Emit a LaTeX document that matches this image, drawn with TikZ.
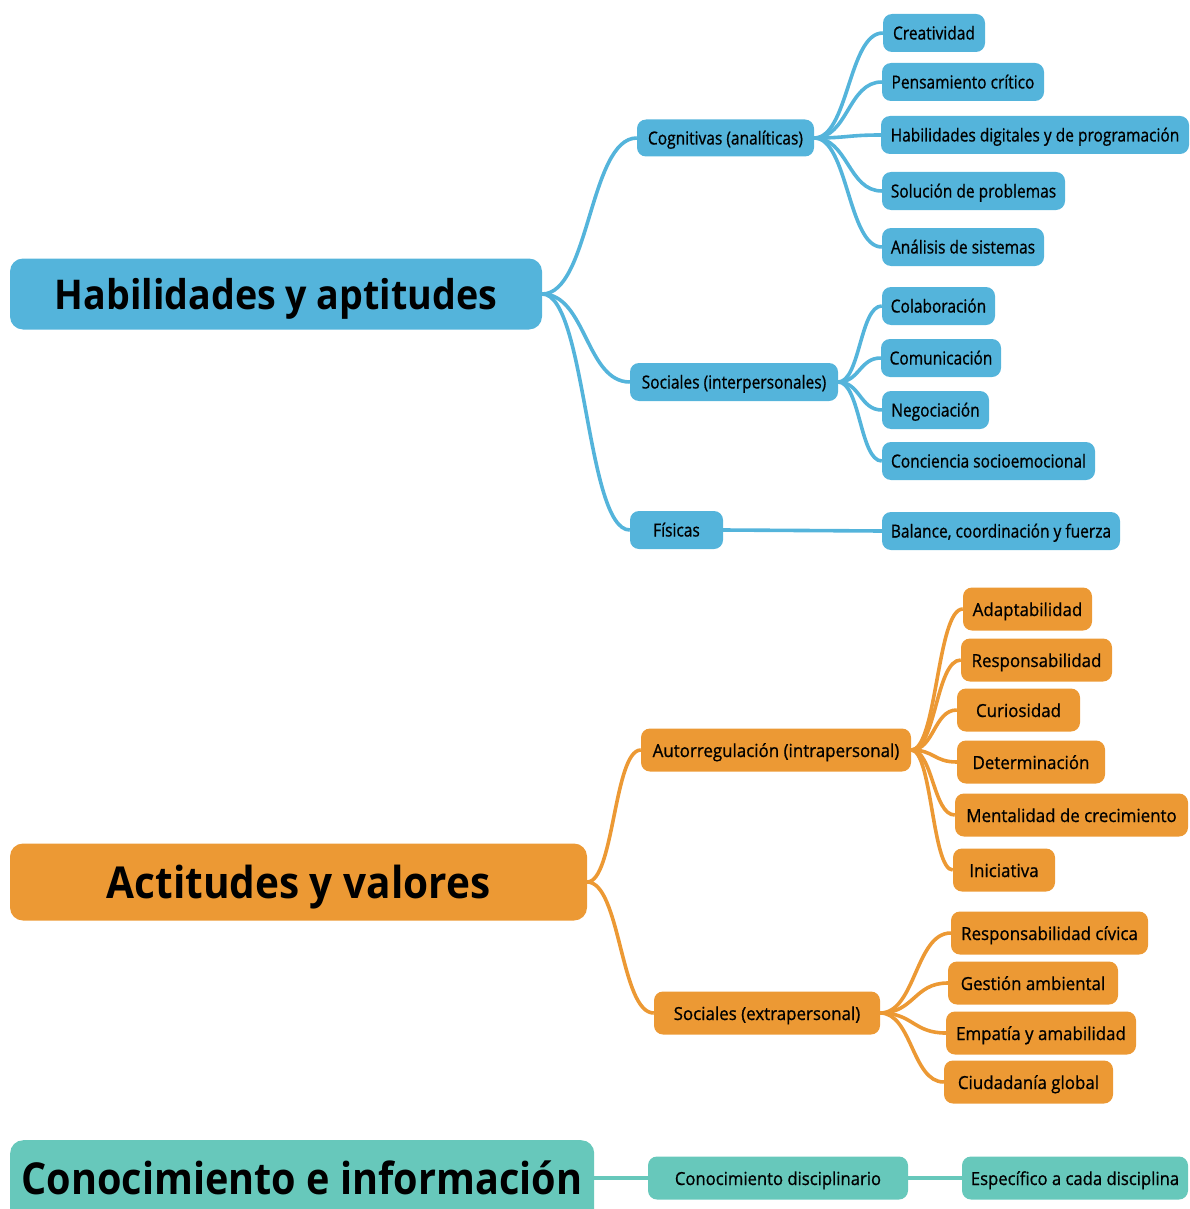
\documentclass[tikz,border=0pt]{standalone}
\usepackage{fontspec}
\setmainfont{Open Sans}
\newfontfamily\rootfontA[FakeStretch=0.918]{Open Sans Bold}
\newfontfamily\rootfontB[FakeStretch=0.921]{Open Sans Bold}
\newfontfamily\rootfontC[FakeStretch=0.90]{Open Sans Bold}
\newfontfamily\bfontn[FakeStretch=0.862,FakeBold=0.8]{Open Sans}
\newfontfamily\ofontn[FakeStretch=0.94,FakeBold=0.8]{Open Sans}
\newfontfamily\tfontn[FakeStretch=0.925,FakeBold=0.8]{Open Sans}
\usetikzlibrary{calc}
\definecolor{cblue}{RGB}{84,180,219}
\definecolor{corange}{RGB}{236,153,52}
\definecolor{cteal}{RGB}{103,200,187}
\tikzset{
  box/.style={rectangle, rounded corners=9pt, inner sep=0pt, text=black, align=center},
  rootbox/.style={box, rounded corners=13pt, text depth=0pt},
  bsub/.style={box, fill=cblue, font=\bfontn\fontsize{18}{21}\selectfont, text height=13pt, text depth=0pt},
  osub/.style={box, fill=corange, font=\ofontn\fontsize{18}{21}\selectfont, text height=14pt, text depth=0pt},
  tsub/.style={box, fill=cteal, font=\tfontn\fontsize{18}{21}\selectfont, text height=14pt, text depth=0pt},
  bconn/.style={draw=cblue, line width=3.6pt},
  oconn/.style={draw=corange, line width=3.6pt},
  tconn/.style={draw=cteal, line width=3.8pt},
}
\newcommand{\nd}[7]{\node[#2, minimum width={(#4-#3)*1pt}, minimum height={#6*1pt}] (#1) at ({(#3+#4)/2},#5) {#7};}
\newcommand{\cn}[3]{\path[#1] let \p1=(#2.east), \p2=(#3.west) in (\p1) .. controls ({(\x1+\x2)/2},\y1) and ({(\x1+\x2)/2},\y2) .. (\p2);}
\begin{document}
\begin{tikzpicture}[x=1pt,y=-1pt]
\useasboundingbox (0,0) rectangle (1189,1209);
% roots
\nd{r1}{rootbox,fill=cblue,font=\rootfontA\fontsize{41}{45}\selectfont}{10}{542}{294}{71}{Habilidades y aptitudes}
\nd{r2}{rootbox,fill=corange,font=\rootfontB\fontsize{44}{48}\selectfont}{10}{587}{882}{77}{Actitudes y valores}
\node[box, rounded corners=13pt, fill=cteal, minimum width=584pt, minimum height=90pt, anchor=north west] (r3box) at (10,1140) {};
\node[font=\rootfontC\fontsize{44}{48}\selectfont, inner sep=0pt, text depth=0pt] (r3) at (302,1178) {Conocimiento e información};
\coordinate (r3e) at (594,1178);
% blue level 2
\nd{cog}{bsub}{637}{814}{138}{37}{Cognitivas (analíticas)}
\nd{soc}{bsub}{630}{838}{382}{38}{Sociales (interpersonales)}
\nd{fis}{bsub}{630}{723}{530}{38}{Físicas}
% blue level 3
\nd{b1}{bsub}{883}{985}{33}{38}{Creatividad}
\nd{b2}{bsub}{882}{1044}{82}{38}{Pensamiento crítico}
\nd{b3}{bsub}{881}{1189}{135}{38}{Habilidades digitales y de programación}
\nd{b4}{bsub}{882}{1065}{191}{38}{Solución de problemas}
\nd{b5}{bsub}{882}{1044}{247}{38}{Análisis de sistemas}
\nd{b6}{bsub}{882}{995}{306}{38}{Colaboración}
\nd{b7}{bsub}{881}{1001}{358}{38}{Comunicación}
\nd{b8}{bsub}{882}{989}{410}{38}{Negociación}
\nd{b9}{bsub}{882}{1095}{461}{38}{Conciencia socioemocional}
\nd{b10}{bsub}{882}{1120}{531}{38}{Balance, coordinación y fuerza}
% orange level 2
\nd{aut}{osub}{641}{911}{750}{43}{Autorregulación (intrapersonal)}
\nd{ext}{osub}{654}{880}{1013}{43}{Sociales (extrapersonal)}
% orange level 3
\nd{o1}{osub}{963}{1092}{609}{43}{Adaptabilidad}
\nd{o2}{osub}{961}{1112}{660}{43}{Responsabilidad}
\nd{o3}{osub}{957}{1080}{710}{43}{Curiosidad}
\nd{o4}{osub}{957}{1105}{762}{43}{Determinación}
\nd{o5}{osub}{955}{1188}{815}{43}{Mentalidad de crecimiento}
\nd{o6}{osub}{953}{1055}{870}{43}{Iniciativa}
\nd{o7}{osub}{951}{1148}{933}{43}{Responsabilidad cívica}
\nd{o8}{osub}{948}{1118}{983}{43}{Gestión ambiental}
\nd{o9}{osub}{946}{1136}{1033}{43}{Empatía y amabilidad}
\nd{o10}{osub}{944}{1113}{1082}{43}{Ciudadanía global}
% teal
\nd{t1}{tsub}{648}{908}{1178}{43}{Conocimiento disciplinario}
\nd{t2}{tsub}{962}{1188}{1178}{43}{Específico a cada disciplina}
% connectors
\cn{bconn}{r1}{cog}
\cn{bconn}{r1}{soc}
\cn{bconn}{r1}{fis}
\foreach \c in {b1,b2,b3,b4,b5}{\cn{bconn}{cog}{\c}}
\foreach \c in {b6,b7,b8,b9}{\cn{bconn}{soc}{\c}}
\cn{bconn}{fis}{b10}
\cn{oconn}{r2}{aut}
\cn{oconn}{r2}{ext}
\foreach \c in {o1,o2,o3,o4,o5,o6}{\cn{oconn}{aut}{\c}}
\foreach \c in {o7,o8,o9,o10}{\cn{oconn}{ext}{\c}}
\path[tconn] (r3e) -- (t1.west);
\cn{tconn}{t1}{t2}
\end{tikzpicture}
\end{document}
